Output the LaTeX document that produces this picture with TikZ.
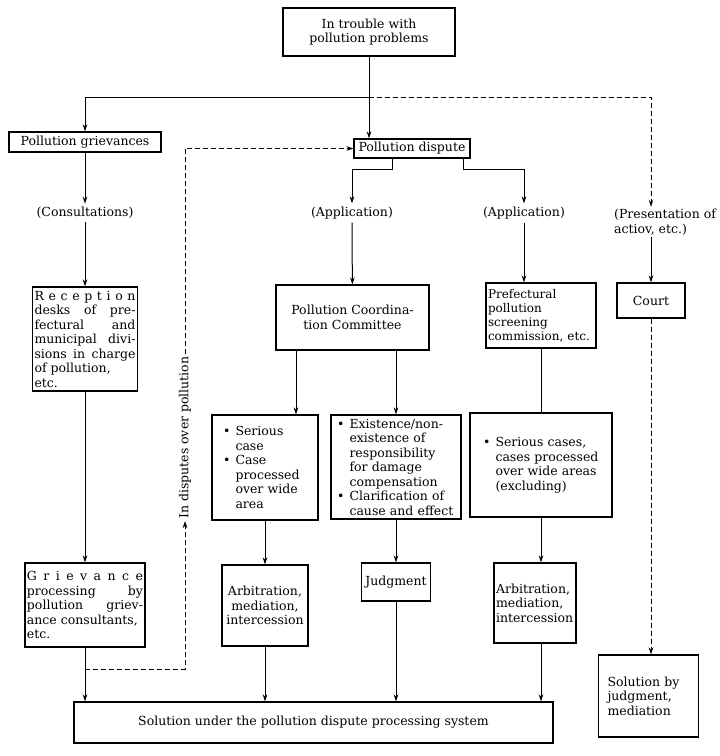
\documentclass[tikz,border=0pt]{standalone}
\usepackage{fontspec}
\setmainfont{DejaVu Serif}
\usepackage{tikz}
\usetikzlibrary{arrows.meta}
\usetikzlibrary{calc}
\usetikzlibrary{positioning}

\newcommand\bul{\makebox[1em][l]{\textbullet}}
\newcommand\bhang{\hspace*{1em}}

\begin{document}
\begin{tikzpicture}[
  x = 1pt, y = -1pt,
  > = {Stealth[length=7pt,width=4.5pt]},
  font = \fontsize{12.5}{14.5}\selectfont,
  box/.style = {draw,line width=1.1pt,inner xsep=2pt,inner ysep=2pt},
  link/.style = {line width=1pt},
  dashline/.style = {link,dash pattern=on 5pt off 3pt}
  ]
  \useasboundingbox (0,0) rectangle (720,756);

  \node[box,minimum width=172pt,minimum height=48pt,align=center] (trouble) at (369,32) {In trouble with\\pollution problems};
  \node[box,minimum width=152pt,minimum height=20pt] (griev) at (85,142) {Pollution grievances};
  \node[box,minimum width=116pt,minimum height=19pt] (dispute) at (412,148.5) {Pollution dispute};

  \node (consult) at (85,213) {(Consultations)};
  \node (appA) at (352,213) {(Application)};
  \node (appB) at (524,213) {(Application)};
  \node[align=left,anchor=west,inner sep=2pt] (present) at (612,222) {(Presentation of\\actiov, etc.)};

  \node[box,text width=101pt,minimum height=104pt,align=justify] (recep) at (85,339)
    {R e c e p t i o n\linebreak desks of pre-\linebreak fectural and\linebreak municipal divi-\linebreak sions in charge\linebreak of pollution,\\etc.};
  \node[box,minimum width=153pt,minimum height=65pt,align=center] (coord) at (352.5,317.5) {Pollution Coordina-\\tion Committee};
  \node[box,text width=106pt,minimum height=65pt,align=left,font=\fontsize{12}{14}\selectfont] (pref) at (541,315.5) {Prefectural\\pollution\\screening\\commission, etc.};
  \node[box,minimum width=68pt,minimum height=35pt] (court) at (651,300.5) {Court};

  \node[box,text width=84pt,minimum width=106pt,minimum height=105pt,align=left] (serious) at (265,467.5)
    {\bul Serious\\\bhang case\\\bul Case\\\bhang processed\\\bhang over wide\\\bhang area};
  \node[box,text width=118pt,minimum width=130pt,minimum height=104pt,align=left] (exist) at (396,467)
    {\bul Existence/non-\\\bhang existence of\\\bhang responsibility\\\bhang for damage\\\bhang compensation\\\bul Clarification of\\\bhang cause and effect};
  \node[box,text width=116pt,minimum width=142pt,minimum height=104pt,align=left] (cases) at (541,465)
    {\bul Serious cases,\\\bhang cases processed\\\bhang over wide areas\\\bhang (excluding)};

  \node[box,text width=116pt,minimum height=84pt,align=justify] (gproc) at (85,605)
    {G r i e v a n c e\linebreak processing by\linebreak pollution griev-\linebreak ance consultants,\\etc.};
  \node[box,minimum width=86pt,minimum height=81pt,align=center] (arbA) at (265,605.5) {Arbitration,\\mediation,\\intercession};
  \node[box,minimum width=69pt,minimum height=38pt] (judg) at (396,582) {Judgment};
  \node[box,text width=78pt,minimum height=80pt,align=left] (arbB) at (535,603) {Arbitration,\\mediation,\\intercession};

  \node[box,minimum width=479pt,minimum height=41pt] (solsys) at (313.5,722.5) {Solution under the pollution dispute processing system};
  \node[box,text width=82pt,minimum width=100pt,minimum height=82pt,align=left] (soljud) at (648.5,696) {Solution by\\judgment,\\mediation};

  \node[rotate=90,anchor=west,inner sep=2pt] (dlabel) at (185,521) {In disputes over pollution};

  \coordinate (fork) at (trouble.south |- 0,97);
  \coordinate (dA) at (392,169);
  \coordinate (dB) at (463,169);
  \coordinate (tap) at (85,669);

  \draw[link,->] (trouble.south) -- (trouble.south |- dispute.north);
  \draw[link,->] (fork) -| (griev.north);
  \draw[dashline,->] (fork) -| (court.north |- present.north);

  \draw[link,->] (dispute.south -| dA) -- (dA) -| (appA.north);
  \draw[link,->] (dispute.south -| dB) -- (dB) -| (appB.north);

  \draw[link,->] (griev) -- (consult);
  \draw[link,->] (consult) -- (recep);
  \draw[link,->] (recep) -- (gproc);
  \draw[link,->] (gproc) -- (gproc |- solsys.north);
  \draw[dashline,->] (tap) -| (dlabel.west);
  \draw[dashline,->] (dlabel.east) |- (dispute.west);

  \draw[link,->] (appA) -- (coord);
  \draw[link,->] ([xshift=31pt]serious.north |- coord.south) -- ([xshift=31pt]serious.north);
  \draw[link,->] (exist.north |- coord.south) -- (exist.north);
  \draw[link,->] (serious) -- (arbA);
  \draw[link,->] (exist) -- (judg);
  \draw[link,->] (arbA) -- (arbA |- solsys.north);
  \draw[link,->] (judg) -- (judg |- solsys.north);

  \draw[link,->] (appB) -- (appB |- pref.north);
  \draw[link] (pref) -- (cases);
  \draw[link,->] (cases.south) -- (cases.south |- arbB.north);
  \draw[link,->] (cases.south |- arbB.south) -- (cases.south |- solsys.north);

  \draw[link,->] (court.north |- present.south) -- (court.north);
  \draw[dashline,->] (court) -- (court |- soljud.north);
\end{tikzpicture}
\end{document}
